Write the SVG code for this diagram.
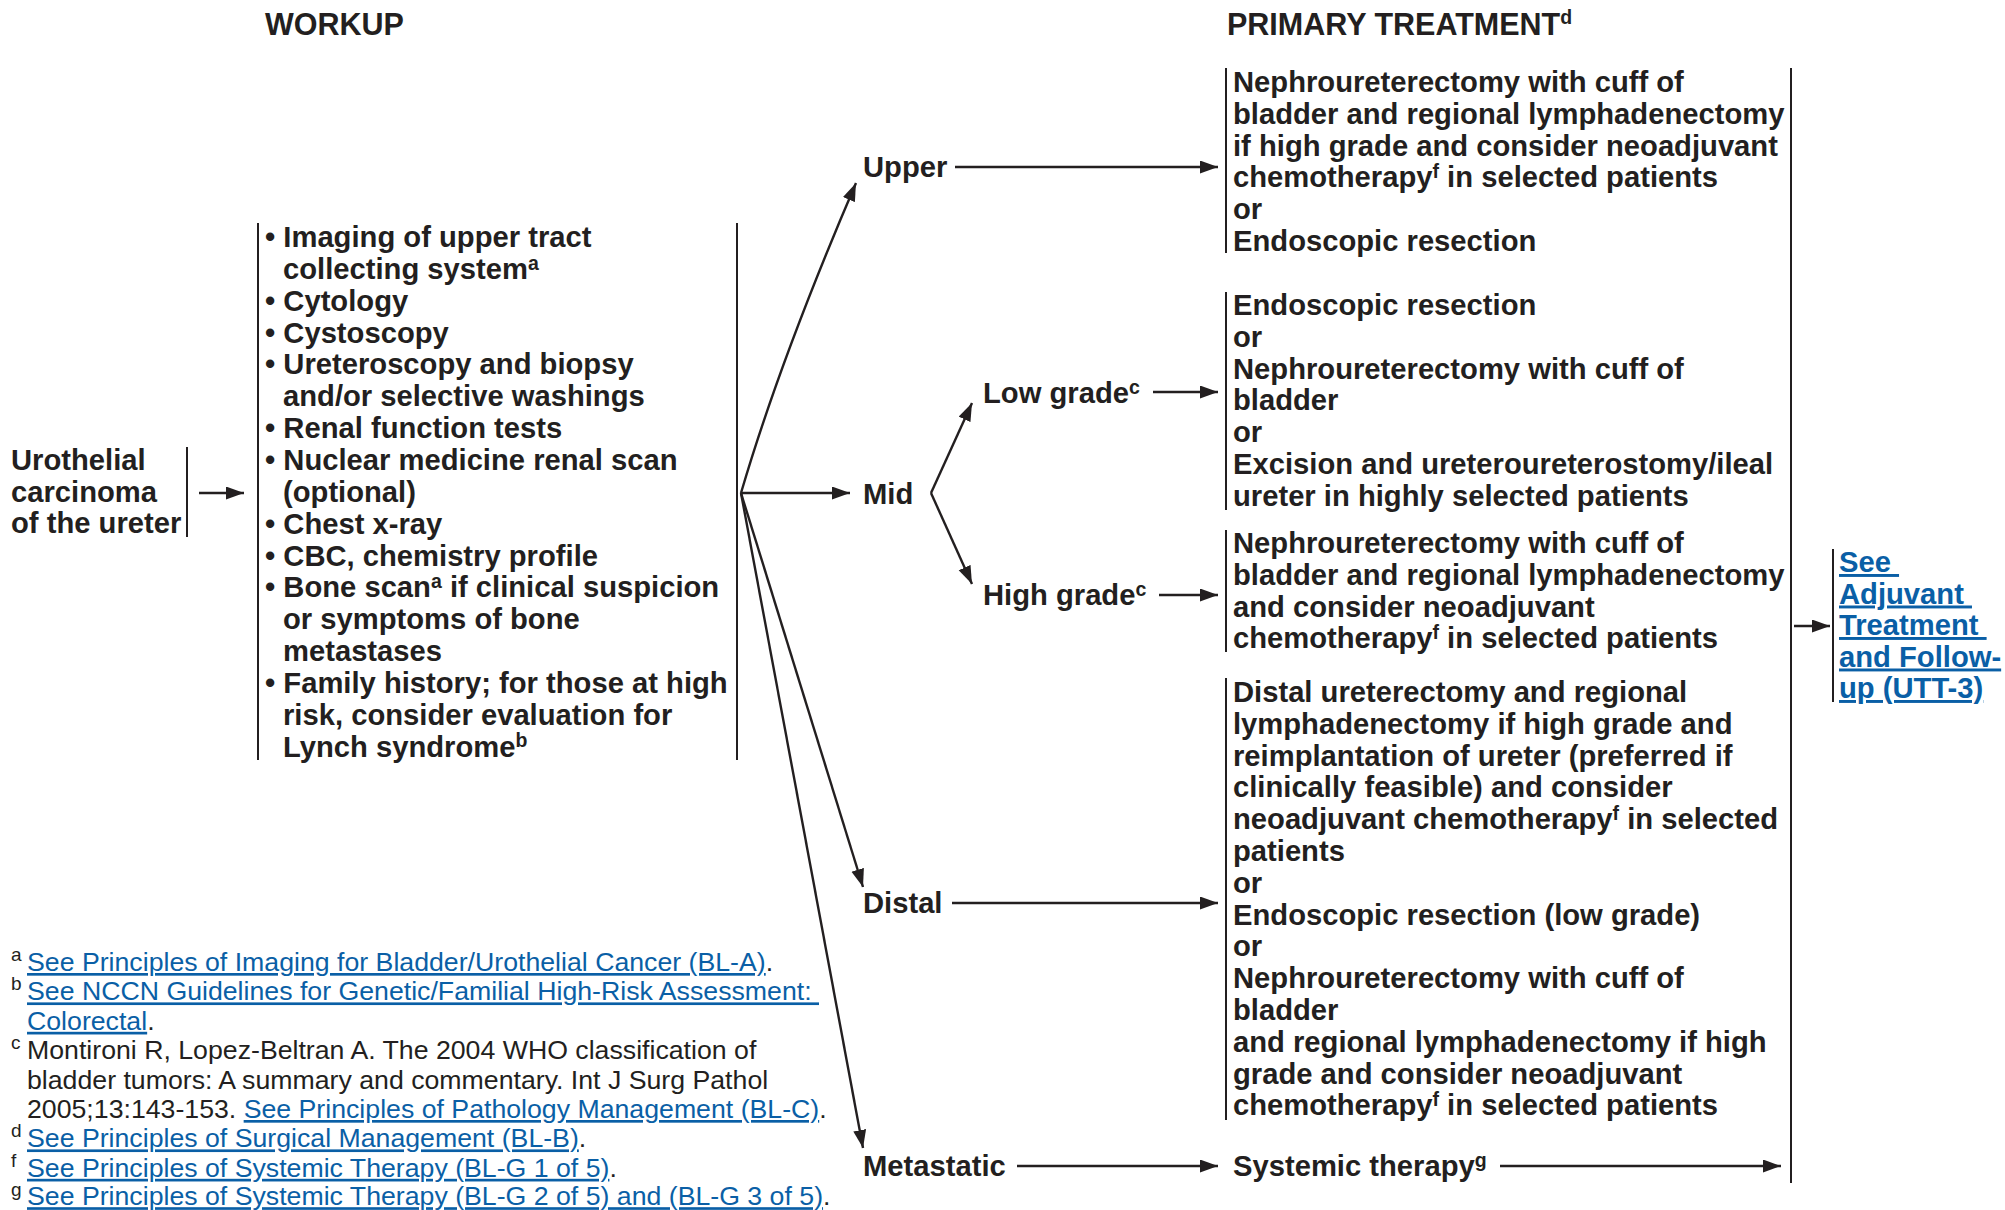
<svg xmlns="http://www.w3.org/2000/svg" width="2005" height="1210" viewBox="0 0 2005 1210">
<defs>
<marker id="ah" markerUnits="userSpaceOnUse" markerWidth="19" markerHeight="14" refX="18" refY="6.5" orient="auto"><path d="M0,0 L18,6.5 L0,13 z" fill="#231f20"/></marker>
<style>
text{font-family:"Liberation Sans",Arial,sans-serif;fill:#231f20}
.t{font-weight:bold;font-size:29.2px}
.h{font-weight:bold;font-size:30.5px}
.s{font-size:19.5px}
.fn{font-size:26.7px;font-weight:normal}
.fs{font-size:19px;font-weight:normal}
.lk{fill:#0a5fa6;text-decoration:underline}
.bar{stroke:#231f20;stroke-width:2;fill:none}
.ar{stroke:#231f20;stroke-width:2.4;fill:none;marker-end:url(#ah)}
</style>
</defs>
<rect width="2005" height="1210" fill="#fff"/>

<g id="headers">
<text class="h" x="265" y="35">WORKUP</text>
<text class="h" x="1227" y="35">PRIMARY TREATMENT<tspan class="s" dy="-11">d</tspan></text>
</g>

<g id="node-urothelial">
<line class="bar" x1="187" y1="447" x2="187" y2="537"/>
<text class="t" x="11" y="470">Urothelial</text>
<text class="t" x="11" y="502">carcinoma</text>
<text class="t" x="11" y="533">of the ureter</text>
</g>

<g id="node-workup">
<line class="bar" x1="258" y1="223" x2="258" y2="760"/>
<line class="bar" x1="737" y1="223" x2="737" y2="760"/>
<text class="t" x="265" y="247">• Imaging of upper tract</text>
<text class="t" x="283" y="279">collecting system<tspan class="s" dy="-9.5">a</tspan></text>
<text class="t" x="265" y="311">• Cytology</text>
<text class="t" x="265" y="342.5">• Cystoscopy</text>
<text class="t" x="265" y="374.4">• Ureteroscopy and biopsy</text>
<text class="t" x="283" y="406.2">and/or selective washings</text>
<text class="t" x="265" y="438.1">• Renal function tests</text>
<text class="t" x="265" y="470">• Nuclear medicine renal scan</text>
<text class="t" x="283" y="501.8">(optional)</text>
<text class="t" x="265" y="533.6">• Chest x-ray</text>
<text class="t" x="265" y="565.5">• CBC, chemistry profile</text>
<text class="t" x="265" y="597.4">• Bone scan<tspan class="s" dy="-9.5">a</tspan><tspan dy="9.5"> if clinical suspicion</tspan></text>
<text class="t" x="283" y="629.2">or symptoms of bone</text>
<text class="t" x="283" y="661">metastases</text>
<text class="t" x="265" y="692.9">• Family history; for those at high</text>
<text class="t" x="283" y="724.7">risk, consider evaluation for</text>
<text class="t" x="283" y="756.6">Lynch syndrome<tspan class="s" dy="-9.5">b</tspan></text>
</g>

<g id="node-upper"><text class="t" x="863" y="177">Upper</text></g>
<g id="node-mid"><text class="t" x="863" y="504">Mid</text></g>
<g id="node-low"><text class="t" x="983" y="403">Low grade<tspan class="s" dy="-9.5">c</tspan></text></g>
<g id="node-high"><text class="t" x="983" y="605">High grade<tspan class="s" dy="-9.5">c</tspan></text></g>
<g id="node-distal"><text class="t" x="863" y="913">Distal</text></g>
<g id="node-metastatic"><text class="t" x="863" y="1176">Metastatic</text></g>

<g id="node-tx-upper">
<line class="bar" x1="1226" y1="68" x2="1226" y2="253"/>
<text class="t" x="1233" y="92">Nephroureterectomy with cuff of</text>
<text class="t" x="1233" y="123.8">bladder and regional lymphadenectomy</text>
<text class="t" x="1233" y="155.6">if high grade and consider neoadjuvant</text>
<text class="t" x="1233" y="187.4">chemotherapy<tspan class="s" dy="-9">f</tspan><tspan dy="9"> in selected patients</tspan></text>
<text class="t" x="1233" y="219.2">or</text>
<text class="t" x="1233" y="251">Endoscopic resection</text>
</g>

<g id="node-tx-low">
<line class="bar" x1="1226" y1="292" x2="1226" y2="510"/>
<text class="t" x="1233" y="315">Endoscopic resection</text>
<text class="t" x="1233" y="346.8">or</text>
<text class="t" x="1233" y="378.6">Nephroureterectomy with cuff of</text>
<text class="t" x="1233" y="410.4">bladder</text>
<text class="t" x="1233" y="442.2">or</text>
<text class="t" x="1233" y="474">Excision and ureteroureterostomy/ileal</text>
<text class="t" x="1233" y="505.8">ureter in highly selected patients</text>
</g>

<g id="node-tx-high">
<line class="bar" x1="1226" y1="530" x2="1226" y2="652"/>
<text class="t" x="1233" y="553">Nephroureterectomy with cuff of</text>
<text class="t" x="1233" y="584.8">bladder and regional lymphadenectomy</text>
<text class="t" x="1233" y="616.6">and consider neoadjuvant</text>
<text class="t" x="1233" y="648.4">chemotherapy<tspan class="s" dy="-9">f</tspan><tspan dy="9"> in selected patients</tspan></text>
</g>

<g id="node-tx-distal">
<line class="bar" x1="1226" y1="678" x2="1226" y2="1120"/>
<text class="t" x="1233" y="702">Distal ureterectomy and regional</text>
<text class="t" x="1233" y="733.8">lymphadenectomy if high grade and</text>
<text class="t" x="1233" y="765.6">reimplantation of ureter (preferred if</text>
<text class="t" x="1233" y="797.4">clinically feasible) and consider</text>
<text class="t" x="1233" y="829.2">neoadjuvant chemotherapy<tspan class="s" dy="-9">f</tspan><tspan dy="9"> in selected</tspan></text>
<text class="t" x="1233" y="861">patients</text>
<text class="t" x="1233" y="892.8">or</text>
<text class="t" x="1233" y="924.6">Endoscopic resection (low grade)</text>
<text class="t" x="1233" y="956.4">or</text>
<text class="t" x="1233" y="988.2">Nephroureterectomy with cuff of</text>
<text class="t" x="1233" y="1020">bladder</text>
<text class="t" x="1233" y="1051.8">and regional lymphadenectomy if high</text>
<text class="t" x="1233" y="1083.6">grade and consider neoadjuvant</text>
<text class="t" x="1233" y="1115.4">chemotherapy<tspan class="s" dy="-9">f</tspan><tspan dy="9"> in selected patients</tspan></text>
</g>

<g id="node-tx-metastatic">
<text class="t" x="1233" y="1176">Systemic therapy<tspan class="s" dy="-9.5">g</tspan></text>
</g>

<g id="node-primary-bracket">
<line class="bar" x1="1791" y1="68" x2="1791" y2="1183"/>
</g>

<g id="node-adjuvant">
<line class="bar" x1="1833" y1="549" x2="1833" y2="702"/>
<text class="t lk" x="1839" y="572" xml:space="preserve">See </text>
<text class="t lk" x="1839" y="603.5" xml:space="preserve">Adjuvant </text>
<text class="t lk" x="1839" y="635" xml:space="preserve">Treatment </text>
<text class="t lk" x="1839" y="666.5">and Follow-</text>
<text class="t lk" x="1839" y="698">up (UTT-3)</text>
</g>

<g id="connectors">
<path class="ar" d="M199,493 H244"/>
<path class="ar" d="M741,493 Q780,360 856,183"/>
<path class="ar" d="M741,493 H850"/>
<path class="ar" d="M741,493 L863,887"/>
<path class="ar" d="M741,493 L863,1148"/>
<path class="ar" d="M931,493 L972,403"/>
<path class="ar" d="M931,493 L972,584"/>
<path class="ar" d="M955,167 H1218"/>
<path class="ar" d="M1153,392 H1218"/>
<path class="ar" d="M1159,595 H1218"/>
<path class="ar" d="M952,903 H1218"/>
<path class="ar" d="M1017,1166 H1218"/>
<path class="ar" d="M1500,1166 H1781"/>
<path class="ar" d="M1794,626 H1830"/>
</g>

<g id="footnotes">
<text class="fs" x="11" y="961">a</text>
<text class="fn" x="27" y="971">
<tspan class="lk">See Principles of Imaging for Bladder/Urothelial Cancer (BL-A)</tspan>.</text>
<text class="fs" x="11" y="990.4">b</text>
<text class="fn lk" x="27" y="1000.4" xml:space="preserve">See NCCN Guidelines for Genetic/Familial High-Risk Assessment: </text>
<text class="fn" x="27" y="1029.8"><tspan class="lk">Colorectal</tspan>.</text>
<text class="fs" x="11" y="1049.2">c</text>
<text class="fn" x="27" y="1059.2">Montironi R, Lopez-Beltran A. The 2004 WHO classification of</text>
<text class="fn" x="27" y="1088.6">bladder tumors: A summary and commentary. Int J Surg Pathol</text>
<text class="fn" x="27" y="1118" xml:space="preserve">2005;13:143-153. <tspan class="lk">See Principles of Pathology Management (BL-C)</tspan>.</text>
<text class="fs" x="11" y="1137.4">d</text>
<text class="fn" x="27" y="1147.4"><tspan class="lk">See Principles of Surgical Management (BL-B)</tspan>.</text>
<text class="fs" x="11" y="1166.8">f</text>
<text class="fn" x="27" y="1176.8"><tspan class="lk">See Principles of Systemic Therapy (BL-G 1 of 5)</tspan>.</text>
<text class="fs" x="11" y="1196.2">g</text>
<text class="fn" x="27" y="1205.2"><tspan class="lk">See Principles of Systemic Therapy (BL-G 2 of 5) and (BL-G 3 of 5)</tspan>.</text>
</g>
</svg>
